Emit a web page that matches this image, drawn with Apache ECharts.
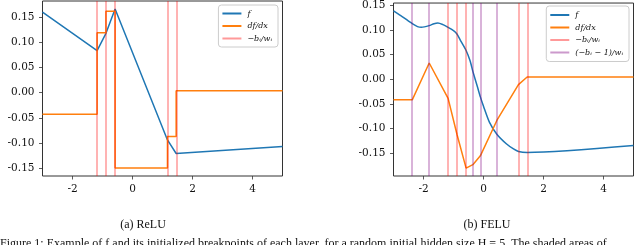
<!DOCTYPE html>
<html><head><meta charset="utf-8">
<script src="https://cdn.jsdelivr.net/npm/echarts@6/dist/echarts.min.js"></script>
<style>html,body{margin:0;padding:0;background:#fff}#c{width:640px;height:245px}</style>
</head><body><div id="c"></div>
<script>
// ---- data ----
const xTicks = [-2, 0, 2, 4];
const yTicks = [-0.15, -0.10, -0.05, 0.00, 0.05, 0.10, 0.15];

// breakpoints -b_i/w_i (both panels) and (-b_i-1)/w_i (FELU panel)
const breaks = [-1.18, -0.885, -0.58, 1.165, 1.455];
const breaksShift = [-2.375, -1.81, -0.355, -0.105, 0.445];

// ReLU panel: f (piecewise linear) and df/dx (step, value held from x until next x)
const reluFx = [-3, -1.18, -0.885, -0.58, 1.165, 1.455, 5];
const reluFy = [0.160, 0.0836, 0.118, 0.1665, -0.094, -0.121, -0.107];
const reluDx = [-3, -1.18, -0.885, -0.58, 1.165, 1.455, 5];
const reluDy = [-0.043, 0.119, 0.162, -0.150, -0.087, 0.004, 0.004];

// FELU panel
const feluFx = [-3, -2.7, -2.375, -2.2, -2.07, -1.81, -1.65, -1.52, -1.35, -1.18, -1.0, -0.885, -0.75, -0.58, -0.45, -0.355, -0.2, -0.105, 0, 0.2, 0.445, 0.77, 1.0, 1.165, 1.455, 5];
const feluFy = [0.139, 0.127, 0.113, 0.107, 0.1056, 0.109, 0.113, 0.1144, 0.111, 0.1056, 0.099, 0.092, 0.077, 0.0585, 0.038, 0.016, -0.016, -0.036, -0.055, -0.088, -0.112, -0.132, -0.142, -0.147, -0.149, -0.135];
const feluDx = [-3, -2.375, -1.81, -1.18, -0.885, -0.58, -0.355, -0.105, 0.445, 1.165, 1.455, 5];
const feluDy = [-0.042, -0.042, 0.033, -0.039, -0.112, -0.181, -0.174, -0.156, -0.084, -0.011, 0.0045, 0.0045];

const names = { f: 'f', d: 'df/dx', r: '\u2212b\u1D62/w\u1D62', p: '(\u2212b\u1D62 \u2212 1)/w\u1D62' };

const BLUE = '#1f77b4', ORANGE = '#ff7f0e', RED = 'rgba(255,0,0,0.4)', PURPLE = 'rgba(128,0,128,0.4)';
const SERIF = '"DejaVu Serif", serif';
const pairs = (xs, ys) => xs.map((x, i) => [x, ys[i]]);

const chart = echarts.init(document.getElementById('c'), null, { renderer: 'canvas' });

function xAxis(g) {
  return {
    type: 'value', gridIndex: g, min: -3, max: 5,
    axisLine: { show: false, onZero: false },
    axisTick: { show: true, length: 3.5, customValues: xTicks, lineStyle: { color: '#333', width: 0.8 } },
    axisLabel: { customValues: xTicks, margin: 8, fontFamily: SERIF, fontSize: 10.5, color: '#111',
      formatter: v => (v < 0 ? '-' : '') + Math.abs(v) },
    splitLine: { show: false }
  };
}
function yAxis(g, min, max) {
  return {
    type: 'value', gridIndex: g, min, max,
    axisLine: { show: false, onZero: false },
    axisTick: { show: true, length: 3.5, customValues: yTicks, lineStyle: { color: '#333', width: 0.8 } },
    axisLabel: { customValues: yTicks, margin: 8, fontFamily: SERIF, fontSize: 10.5, color: '#111',
      formatter: v => (v < -1e-9 ? '-' : '') + Math.abs(v).toFixed(2) },
    splitLine: { show: false }
  };
}
function vlines(name, vals, color, g) {
  return {
    name, type: 'line', xAxisIndex: g, yAxisIndex: g, data: [], color, symbol: 'none',
    lineStyle: { color, width: 1.5 }, z: 5,
    markLine: { silent: true, symbol: 'none', label: { show: false }, animation: false,
      lineStyle: { color, width: 1.5, type: 'solid' },
      data: vals.map(v => ({ xAxis: v })) }
  };
}
function legend(data, right, top, pad) {
  return {
    data, orient: 'vertical', right, top, itemWidth: 19, itemHeight: 8, itemGap: 4.5,
    padding: pad, backgroundColor: 'rgba(255,255,255,0.85)', borderColor: '#ccc', borderWidth: 1, borderRadius: 3,
    itemStyle: { opacity: 0 },
    textStyle: { fontFamily: SERIF, fontStyle: 'italic', fontSize: 8, color: '#111', padding: [0, 0, 0, 1] },
    selectedMode: false
  };
}

chart.setOption({
  animation: false,
  grid: [
    { left: 42.5, top: 1, width: 240, height: 175, show: true, borderColor: '#333', borderWidth: 1 },
    { left: 393.5, top: 2.5, width: 240, height: 173.5, show: true, borderColor: '#333', borderWidth: 1 }
  ],
  xAxis: [xAxis(0), xAxis(1)],
  yAxis: [yAxis(0, -0.1658, 0.1823), yAxis(1, -0.197, 0.155)],
  legend: [
    legend([names.f, names.d, names.r], 362, 5, [4.5, 6, 4.5, 3]),
    legend([names.f, names.d, names.r, names.p], 11, 6, [5, 6, 5, 3])
  ],
  series: [
    { name: names.f, type: 'line', xAxisIndex: 0, yAxisIndex: 0, data: pairs(reluFx, reluFy), color: BLUE,
      symbol: 'none', lineStyle: { width: 1.5, color: BLUE }, z: 3 },
    { name: names.d, type: 'line', xAxisIndex: 0, yAxisIndex: 0, data: pairs(reluDx, reluDy), step: 'end', color: ORANGE,
      symbol: 'none', lineStyle: { width: 1.5, color: ORANGE }, z: 3 },
    vlines(names.r, breaks, RED, 0),
    { name: names.f, type: 'line', xAxisIndex: 1, yAxisIndex: 1, data: pairs(feluFx, feluFy), smooth: 0.25, color: BLUE,
      symbol: 'none', lineStyle: { width: 1.5, color: BLUE }, z: 3 },
    { name: names.d, type: 'line', xAxisIndex: 1, yAxisIndex: 1, data: pairs(feluDx, feluDy), color: ORANGE,
      symbol: 'none', lineStyle: { width: 1.5, color: ORANGE }, z: 3 },
    vlines(names.r, breaks, RED, 1),
    vlines(names.p, breaksShift, PURPLE, 1)
  ],
  graphic: [
    { type: 'text', x: 143, y: 219, style: { text: '(a) ReLU', font: '12px "Liberation Serif"', fill: '#111', textAlign: 'center' } },
    { type: 'text', x: 487, y: 219, style: { text: '(b) FELU', font: '12px "Liberation Serif"', fill: '#111', textAlign: 'center' } },
    { type: 'text', x: 0, y: 238, style: { text: 'Figure 1: Example of f and its initialized breakpoints of each layer, for a random initial hidden size H = 5. The shaded areas of', font: '12px "Liberation Serif"', fill: '#111' } }
  ]
});
</script></body></html>
